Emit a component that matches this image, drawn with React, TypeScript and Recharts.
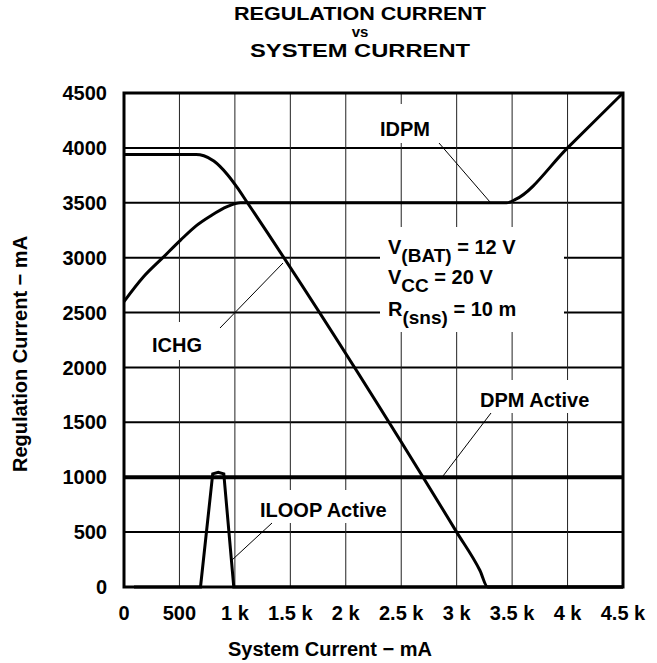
import { LineChart, Line, XAxis, YAxis, CartesianGrid, ReferenceArea } from "recharts";

// System current (mA) ticks and regulation current (mA) ticks
const xTicks = [0, 500, 1000, 1500, 2000, 2500, 3000, 3500, 4000, 4500];
const yTicks = [0, 500, 1000, 1500, 2000, 2500, 3000, 3500, 4000, 4500];

// ICHG: charge current folds back once system current eats the DPM budget
const ichgX = [0, 650, 720, 810, 930, 1020, 1110, 3000, 3210, 3280, 3350, 4500];
const ichgY = [3940, 3940, 3928, 3880, 3760, 3640, 3505, 500, 150, 0, 0, 0];

// IDPM: input current limit
const idpmX = [0, 180, 350, 510, 650, 780, 930, 1050, 3450, 3530, 4000, 4500];
const idpmY = [2600, 2830, 3000, 3160, 3290, 3380, 3465, 3500, 3500, 3530, 4000, 4500];

// ILOOP active window
const iloopX = [90, 690, 800, 850, 900, 990, 4500];
const iloopY = [0, 0, 1030, 1045, 1030, 0, 0];

// DPM active flag
const dpmX = [0, 4500];
const dpmY = [1000, 1000];

const toPoints = (xs: number[], ys: number[]) => xs.map((x, i) => ({ x, y: ys[i] }));

const ichgData = toPoints(ichgX, ichgY);
const idpmData = toPoints(idpmX, idpmY);
const iloopData = toPoints(iloopX, iloopY);
const dpmData = toPoints(dpmX, dpmY);

const FONT = "'Liberation Sans', Arial, Helvetica, sans-serif";

const formatX = (v: number) => {
  if (v === 0) return "0";
  if (v < 1000) return String(v);
  return `${v / 1000} k`;
};

const textStyle = { fontFamily: FONT, fontWeight: 700, fontSize: 20, fill: "#000" };

export default function App() {
  return (
    <div style={{ position: "absolute", left: 0, top: 0, background: "#fff" }}>
      <LineChart
        width={657}
        height={663}
        margin={{ top: 93, right: 34, bottom: 0, left: 0 }}
      >
        <CartesianGrid vertical={false} stroke="#000" strokeWidth={2} />
        <CartesianGrid horizontal={false} stroke="#222" strokeWidth={1} />
        <XAxis
          type="number"
          dataKey="x"
          domain={[0, 4500]}
          ticks={xTicks}
          tickFormatter={formatX}
          interval={0}
          height={76}
          tickSize={0}
          tickMargin={19}
          axisLine={false}
          tickLine={false}
          tick={{ ...textStyle }}
        />
        <YAxis
          type="number"
          dataKey="y"
          domain={[0, 4500]}
          ticks={yTicks}
          interval={0}
          width={124}
          tickSize={0}
          tickMargin={17}
          axisLine={false}
          tickLine={false}
          tick={{ ...textStyle }}
        />

        {/* label backgrounds knock out the grid */}
        <rect x={376} y={104} width={60} height={39} fill="#fff" />
        <rect x={380} y={227} width={184} height={105} fill="#fff" />
        <rect x={146} y={322} width={64} height={38} fill="#fff" />
        <rect x={475} y={380} width={123} height={33} fill="#fff" />
        <rect x={255} y={490} width={142} height={33} fill="#fff" />

        <ReferenceArea x1={0} x2={4500} y1={0} y2={4500} fill="none" stroke="#000" strokeWidth={3} />

        <Line data={dpmData} dataKey="y" type="linear" stroke="#000" strokeWidth={4} dot={false} isAnimationActive={false} />
        <Line data={iloopData} dataKey="y" type="linear" stroke="#000" strokeWidth={3} dot={false} isAnimationActive={false} />
        <Line data={idpmData} dataKey="y" type="monotone" stroke="#000" strokeWidth={3} dot={false} isAnimationActive={false} />
        <Line data={ichgData} dataKey="y" type="monotone" stroke="#000" strokeWidth={3} dot={false} isAnimationActive={false} />

        {/* leader lines */}
        <g stroke="#000" strokeWidth={1}>
          <line x1={439} y1={143} x2={490} y2={202} />
          <line x1={220} y1={328} x2={283} y2={263} />
          <line x1={491} y1={413} x2={443} y2={476} />
          <line x1={272} y1={523} x2={232} y2={560} />
        </g>

        <g style={textStyle}>
          <text x={380} y={136}>IDPM</text>
          <text x={152} y={352}>ICHG</text>
          <text x={480} y={407}>DPM Active</text>
          <text x={260} y={517}>ILOOP Active</text>
          <text x={388} y={254}>
            V<tspan dy={8} fontSize={19}>(BAT)</tspan>
            <tspan dy={-8}> = 12 V</tspan>
          </text>
          <text x={388} y={284}>
            V<tspan dy={8} fontSize={19}>CC</tspan>
            <tspan dy={-8}> = 20 V</tspan>
          </text>
          <text x={388} y={316}>
            R<tspan dy={8} fontSize={19}>(sns)</tspan>
            <tspan dy={-8}> = 10 m</tspan>
          </text>
        </g>

        {/* title and axis titles */}
        <g style={{ ...textStyle, fontSize: 18 }} textAnchor="middle">
          <text x={360} y={20} textLength={252} lengthAdjust="spacingAndGlyphs">
            REGULATION CURRENT
          </text>
          <text x={360} y={37} fontSize={15}>vs</text>
          <text x={360} y={57} textLength={220} lengthAdjust="spacingAndGlyphs">
            SYSTEM CURRENT
          </text>
        </g>
        <text x={330} y={656} textAnchor="middle" style={textStyle}>
          System Current − mA
        </text>
        <text
          x={0}
          y={0}
          textAnchor="middle"
          transform="translate(27 354) rotate(-90)"
          style={textStyle}
        >
          Regulation Current − mA
        </text>
      </LineChart>
    </div>
  );
}
